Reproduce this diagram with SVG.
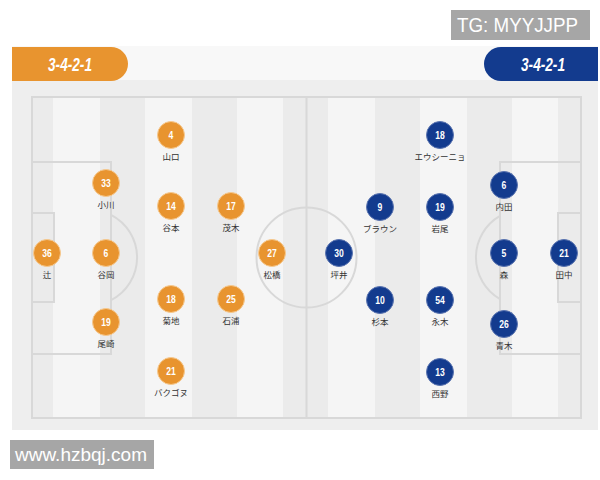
<svg xmlns="http://www.w3.org/2000/svg" width="600" height="480" viewBox="0 0 600 480">
<style>
.ln{fill:none;stroke:#d8d8d8;stroke-width:2}
.dk{fill:#ebebeb}
.o{fill:#e8942f;stroke:#f6c98f;stroke-width:1}
.b{fill:#133b8e;stroke:#5a74b0;stroke-width:1}
.n{font-family:"Liberation Sans",Arial,sans-serif;font-weight:bold;font-size:11px;fill:#fff;text-anchor:middle}
.nm{font-family:"Noto Sans CJK JP","Noto Sans",sans-serif;font-size:8.5px;fill:#333;text-anchor:middle}
.f{font-family:"Liberation Sans",Arial,sans-serif;font-weight:bold;font-style:italic;font-size:18px;fill:#fff;text-anchor:middle}
.wm{font-family:"Liberation Sans",Arial,sans-serif;fill:#fff}
</style>
<rect width="600" height="480" fill="#fff"/>
<g id="panel">
<rect x="12" y="46" width="586" height="384" fill="#eeeeee"/>
<rect x="12" y="46" width="586" height="34" fill="#f8f8f8"/>
<rect x="32" y="97" width="549" height="321" fill="#f5f5f5"/>
<rect class="dk" x="32" y="97" width="21" height="321"/>
<rect class="dk" x="100" y="97" width="45" height="321"/>
<rect class="dk" x="192" y="97" width="45" height="321"/>
<rect class="dk" x="283" y="97" width="45" height="321"/>
<rect class="dk" x="375" y="97" width="45" height="321"/>
<rect class="dk" x="467" y="97" width="45" height="321"/>
<rect class="dk" x="558" y="97" width="23" height="321"/>
</g>
<g id="pitch-lines">
<rect class="ln" x="32" y="97" width="549" height="321"/>
<line class="ln" x1="306.5" y1="97" x2="306.5" y2="418"/>
<circle class="ln" cx="306.5" cy="257.5" r="50"/>
<rect class="ln" x="32" y="162" width="79" height="192"/>
<rect class="ln" x="32" y="213" width="22" height="89"/>
<path class="ln" d="M111,214.8 A48,48 0 0 1 111,300.2"/>
<rect class="ln" x="500" y="162" width="81" height="192"/>
<rect class="ln" x="558" y="213" width="23" height="89"/>
<path class="ln" d="M500,215.9 A48,48 0 0 0 500,299.1"/>
</g>
<g id="formation-home">
<path d="M12,47 H111 A17,17 0 0 1 111,81 H12 Z" fill="#e8942f"/>
<text class="f" x="70" y="71" textLength="44" lengthAdjust="spacingAndGlyphs">3-4-2-1</text>
</g>
<g id="formation-away">
<path d="M598,47 H501 A17,17 0 0 0 501,81 H598 Z" fill="#133b8e"/>
<text class="f" x="543" y="71" textLength="44" lengthAdjust="spacingAndGlyphs">3-4-2-1</text>
</g>
<g id="h4"><circle class="o" cx="171" cy="135" r="13.5"/><text class="n" transform="translate(171 139) scale(0.78 1)">4</text><text class="nm" x="171" y="160">山口</text></g>
<g id="h33"><circle class="o" cx="106" cy="183" r="13.5"/><text class="n" transform="translate(106 187) scale(0.78 1)">33</text><text class="nm" x="106" y="208">小川</text></g>
<g id="h14"><circle class="o" cx="171" cy="206" r="13.5"/><text class="n" transform="translate(171 210) scale(0.78 1)">14</text><text class="nm" x="171" y="231">谷本</text></g>
<g id="h17"><circle class="o" cx="231" cy="206" r="13.5"/><text class="n" transform="translate(231 210) scale(0.78 1)">17</text><text class="nm" x="231" y="231">茂木</text></g>
<g id="h36"><circle class="o" cx="47" cy="253" r="13.5"/><text class="n" transform="translate(47 257) scale(0.78 1)">36</text><text class="nm" x="47" y="278">辻</text></g>
<g id="h6"><circle class="o" cx="106" cy="253" r="13.5"/><text class="n" transform="translate(106 257) scale(0.78 1)">6</text><text class="nm" x="106" y="278">谷岡</text></g>
<g id="h27"><circle class="o" cx="272" cy="253" r="13.5"/><text class="n" transform="translate(272 257) scale(0.78 1)">27</text><text class="nm" x="272" y="278">松橋</text></g>
<g id="h18"><circle class="o" cx="171" cy="299" r="13.5"/><text class="n" transform="translate(171 303) scale(0.78 1)">18</text><text class="nm" x="171" y="324">菊地</text></g>
<g id="h25"><circle class="o" cx="231" cy="299" r="13.5"/><text class="n" transform="translate(231 303) scale(0.78 1)">25</text><text class="nm" x="231" y="324">石浦</text></g>
<g id="h19"><circle class="o" cx="106" cy="322" r="13.5"/><text class="n" transform="translate(106 326) scale(0.78 1)">19</text><text class="nm" x="106" y="347">尾崎</text></g>
<g id="h21"><circle class="o" cx="171" cy="371" r="13.5"/><text class="n" transform="translate(171 375) scale(0.78 1)">21</text><text class="nm" x="171" y="396">バクゴヌ</text></g>
<g id="a18"><circle class="b" cx="440" cy="135" r="13.5"/><text class="n" transform="translate(440 139) scale(0.78 1)">18</text><text class="nm" x="440" y="160">エウシーニョ</text></g>
<g id="a6"><circle class="b" cx="504" cy="185" r="13.5"/><text class="n" transform="translate(504 189) scale(0.78 1)">6</text><text class="nm" x="504" y="210">内田</text></g>
<g id="a9"><circle class="b" cx="380" cy="207" r="13.5"/><text class="n" transform="translate(380 211) scale(0.78 1)">9</text><text class="nm" x="380" y="232">ブラウン</text></g>
<g id="a19"><circle class="b" cx="440" cy="207" r="13.5"/><text class="n" transform="translate(440 211) scale(0.78 1)">19</text><text class="nm" x="440" y="232">岩尾</text></g>
<g id="a30"><circle class="b" cx="339" cy="253" r="13.5"/><text class="n" transform="translate(339 257) scale(0.78 1)">30</text><text class="nm" x="339" y="278">坪井</text></g>
<g id="a5"><circle class="b" cx="504" cy="253" r="13.5"/><text class="n" transform="translate(504 257) scale(0.78 1)">5</text><text class="nm" x="504" y="278">森</text></g>
<g id="a21"><circle class="b" cx="564" cy="253" r="13.5"/><text class="n" transform="translate(564 257) scale(0.78 1)">21</text><text class="nm" x="564" y="278">田中</text></g>
<g id="a10"><circle class="b" cx="380" cy="300" r="13.5"/><text class="n" transform="translate(380 304) scale(0.78 1)">10</text><text class="nm" x="380" y="325">杉本</text></g>
<g id="a54"><circle class="b" cx="440" cy="300" r="13.5"/><text class="n" transform="translate(440 304) scale(0.78 1)">54</text><text class="nm" x="440" y="325">永木</text></g>
<g id="a26"><circle class="b" cx="504" cy="324" r="13.5"/><text class="n" transform="translate(504 328) scale(0.78 1)">26</text><text class="nm" x="504" y="349">青木</text></g>
<g id="a13"><circle class="b" cx="440" cy="372" r="13.5"/><text class="n" transform="translate(440 376) scale(0.78 1)">13</text><text class="nm" x="440" y="397">西野</text></g>
<g id="watermark-tg">
<rect x="451" y="10" width="139" height="30" fill="#a6a6a6"/>
<text class="wm" x="457" y="32" font-size="20" textLength="121" lengthAdjust="spacingAndGlyphs">TG: MYYJJPP</text>
</g>
<g id="watermark-url">
<rect x="10" y="440" width="144" height="29" fill="#a6a6a6"/>
<text class="wm" x="15" y="461" font-size="19" textLength="132" lengthAdjust="spacingAndGlyphs">www.hzbqj.com</text>
</g>
</svg>
